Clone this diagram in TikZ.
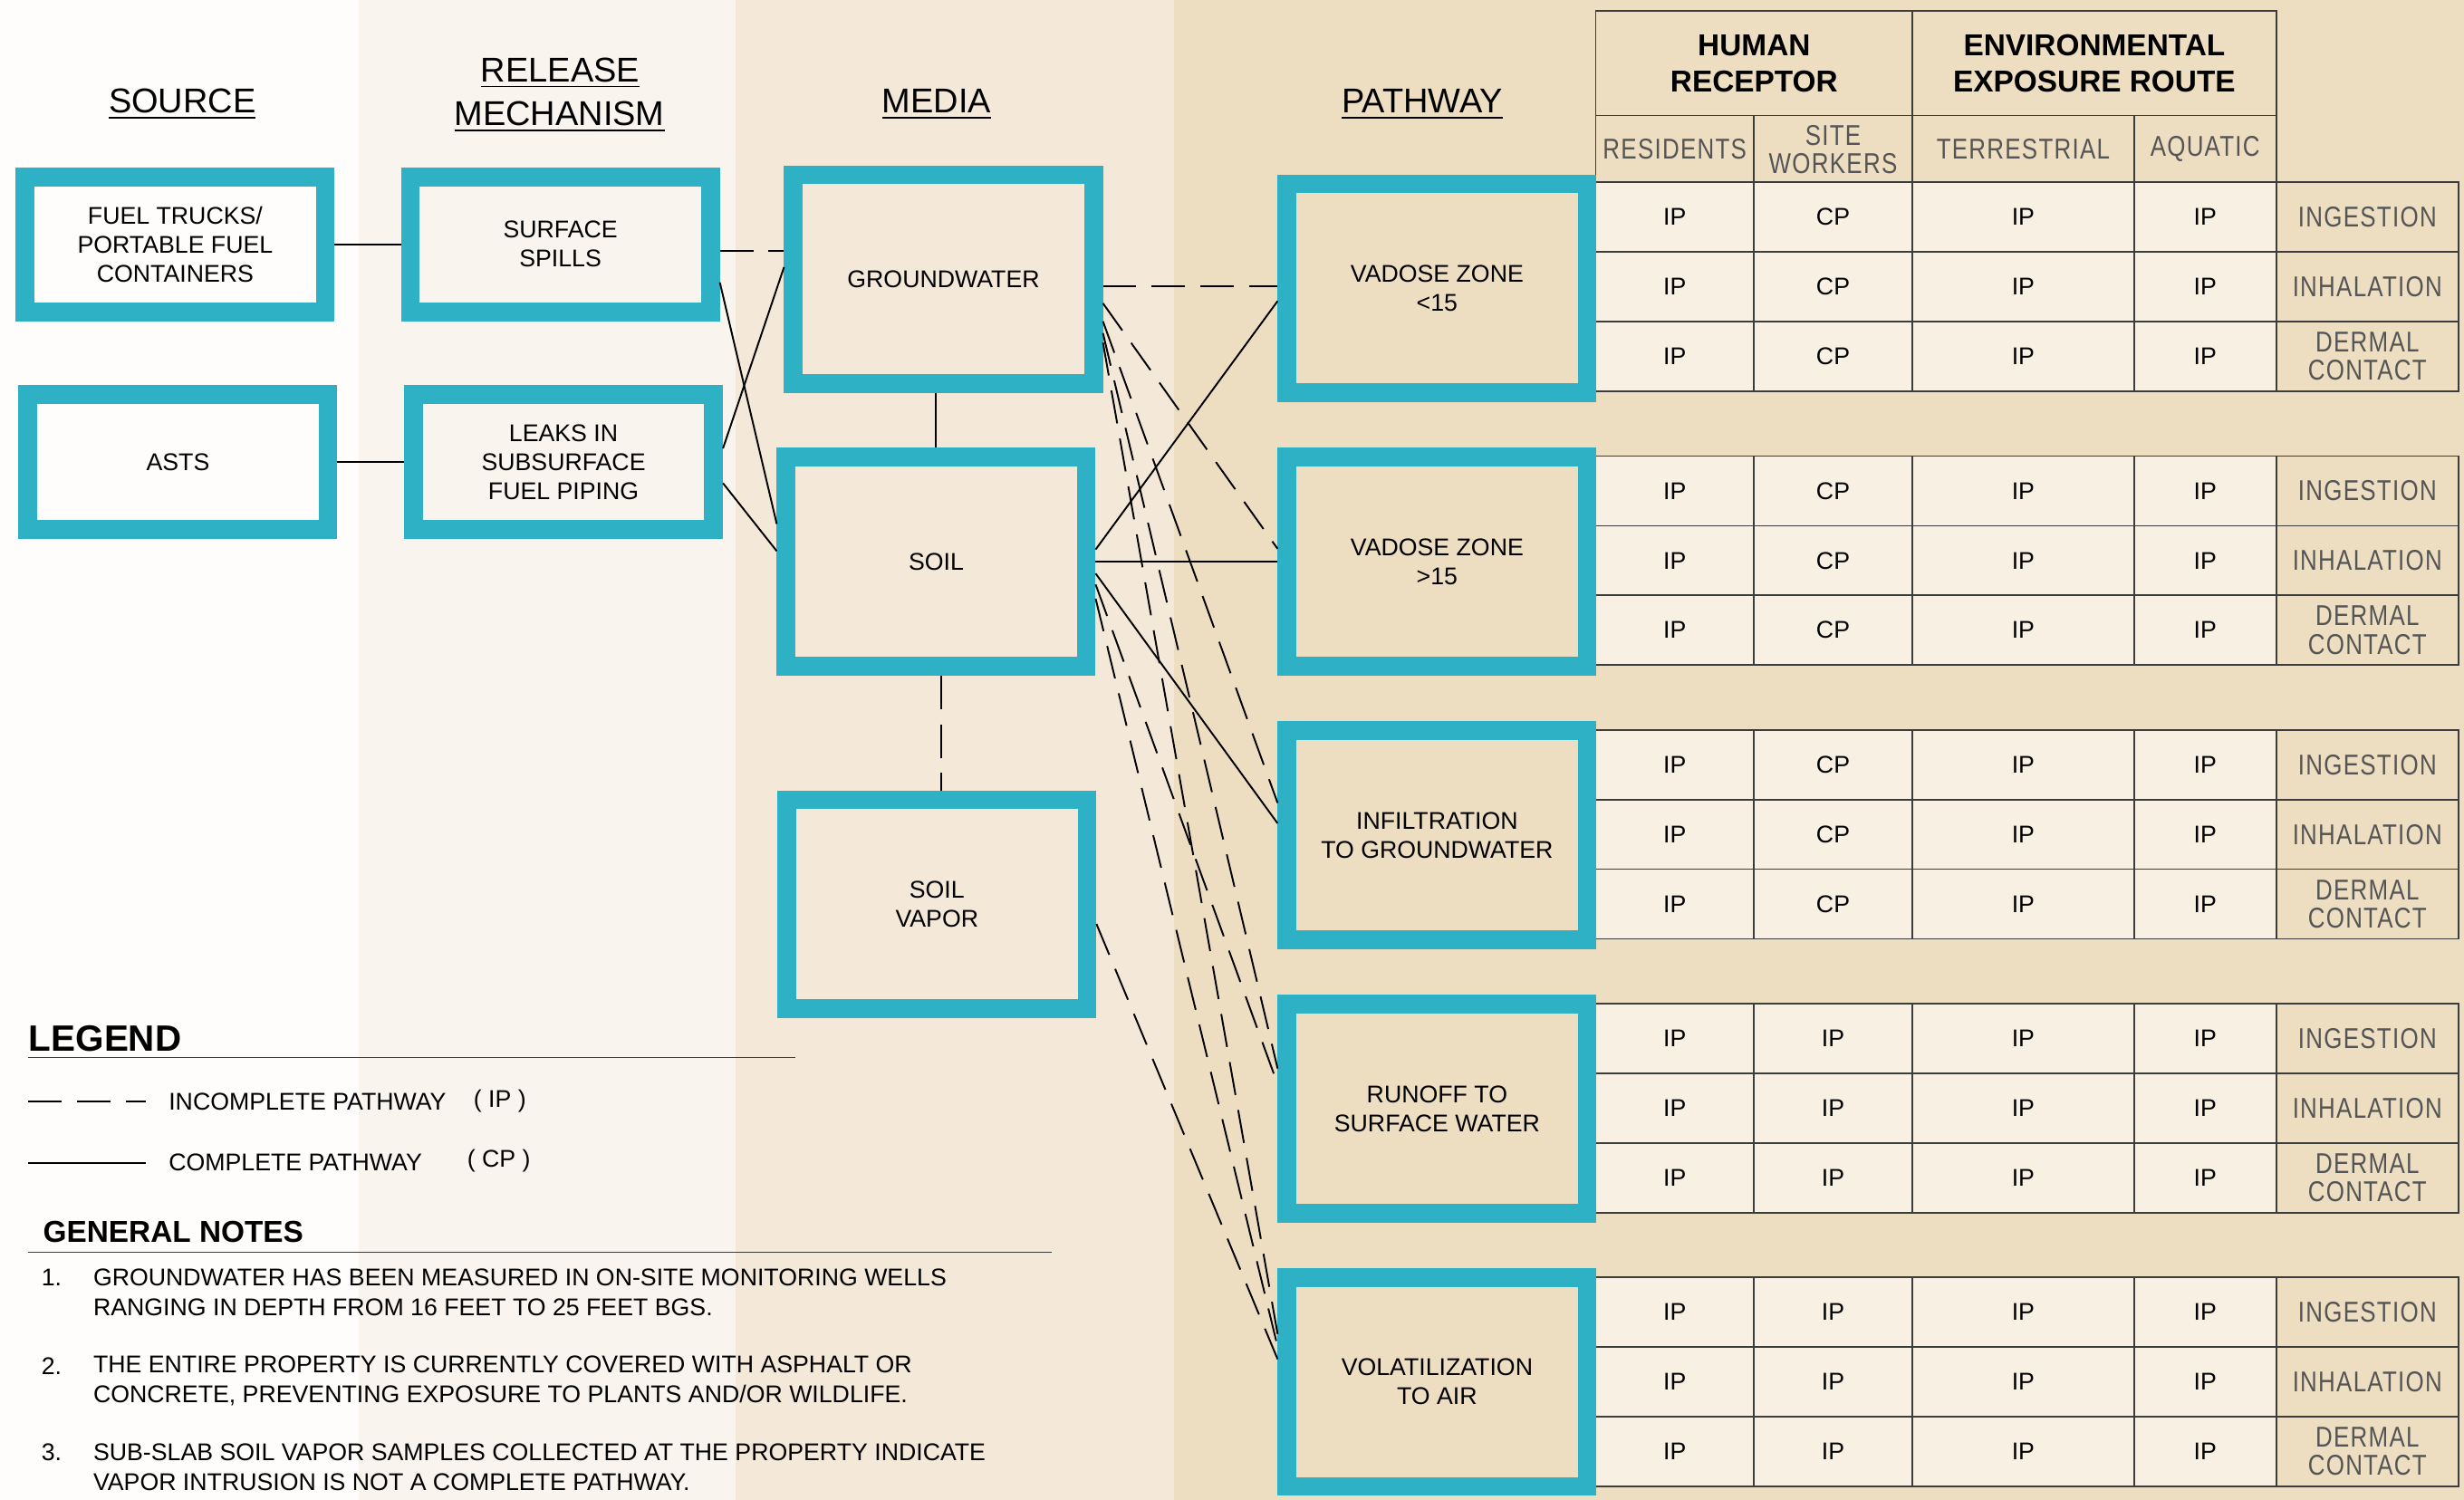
\documentclass[tikz,border=0pt]{standalone}
\usepackage{fontspec}
\setmainfont{Liberation Sans}
\newfontfamily\cmthinfont[FakeStretch=0.82,LetterSpace=4]{Liberation Sans}
\usetikzlibrary{calc}

\definecolor{tealbox}{RGB}{46,177,196}
\definecolor{bandA}{RGB}{254,253,251}
\definecolor{bandB}{RGB}{249,245,238}
\definecolor{bandC}{RGB}{244,233,216}
\definecolor{bandD}{RGB}{237,222,194}
\definecolor{cellfill}{RGB}{247,240,227}
\definecolor{routegray}{RGB}{85,85,85}
\definecolor{gridline}{RGB}{60,60,60}

\newcommand{\cmboxfont}{\fontsize{7.6}{9.1}\selectfont}
\newcommand{\cmtitlefont}{\fontsize{10.8}{13.8}\selectfont}
\newcommand{\cmheadfont}{\bfseries\fontsize{9.5}{11.4}\selectfont}
\newcommand{\cmroutefont}{\cmthinfont\fontsize{9}{8.9}\selectfont}
\newcommand{\cmlegfont}{\bfseries\fontsize{11.5}{13}\selectfont}
\newcommand{\cmnotesfont}{\bfseries\fontsize{9.5}{11}\selectfont}
\newcommand{\cmnotefont}{\fontsize{7.6}{9.4}\selectfont}

\begin{document}
\begin{tikzpicture}[x=0.017347cm, y=-0.017347cm,
  every node/.style={align=center, inner sep=0pt},
  flowbox/.style={draw=tealbox, line width=0.208cm, minimum width=3.313cm,
    minimum height=1.492cm, font=\cmboxfont},
  tallbox/.style={flowbox, minimum height=2.307cm},
  cpath/.style={line width=0.55pt},
  ipath/.style={line width=0.55pt, dash pattern=on 10.5pt off 4.8pt},
  cellrule/.style={draw=gridline, line width=0.5pt},
  title/.style={font=\cmtitlefont, anchor=base},
  head/.style={font=\cmheadfont},
  route/.style={font=\cmroutefont, text=routegray},
  cell/.style={font=\cmboxfont},
  note/.style={font=\cmnotefont, anchor=west}]

%background bands
  \useasboundingbox (0,0) rectangle (1568,954.6);
  \fill[bandA] (0,0) rectangle (228.5,954.6);
  \fill[bandB] (228.5,0) rectangle (468,954.6);
  \fill[bandC] (468,0) rectangle (747,954.6);
  \fill[bandD] (747,0) rectangle (1568,954.6);

%column titles
  \node[title] (t-source) at (116,72) {\underline{SOURCE}};
  \node[title] (t-release) at (356.5,52) {\underline{RELEASE}};
  \node[title] (t-mech) at (356,80) {\underline{MECHANISM}};
  \node[title] (t-media) at (596,72) {\underline{MEDIA}};
  \node[title] (t-pathway) at (905,72) {\underline{PATHWAY}};

%table header
  \foreach \xa/\xb/\txt [count=\i] in {1015.5/1217/{HUMAN\\RECEPTOR},
      1217/1448.5/{ENVIRONMENTAL\\EXPOSURE ROUTE}} {
    \draw[cellrule] (\xa,7) rectangle (\xb,73.5);
    \node[head] (head-\i) at ({(\xa+\xb)/2},40.5) {\txt};
  }
  \foreach \xa/\xb/\txt [count=\i] in {1015.5/1116/RESIDENTS, 1116/1217/{SITE\\WORKERS},
      1217/1358/TERRESTRIAL, 1358/1448.5/AQUATIC} {
    \draw[cellrule] (\xa,73.5) rectangle (\xb,116);
    \node[route] (sub-\i) at ({(\xa+\xb)/2},95) {\txt};
  }

%table rows
  \foreach \grp/\work in {0/CP,1/CP,2/CP,3/IP,4/IP} {
    \foreach \row/\route in {0/INGESTION,1/INHALATION,2/{DERMAL\\CONTACT}} {
      \pgfmathsetmacro{\ytop}{116+174.25*\grp+44.33*\row}
      \pgfmathsetmacro{\ybot}{\ytop+44.33}
      \pgfmathsetmacro{\ymid}{\ytop+22.17}
      \fill[cellfill] (1015.5,\ytop) rectangle (1448.5,\ybot);
      \draw[cellrule] (1015.5,\ytop) rectangle (1564.5,\ybot);
      \foreach \xa in {1116,1217,1358,1448.5}
        \draw[cellrule] (\xa,\ytop) -- (\xa,\ybot);
      \node[cell] (r-\grp-\row-1) at (1065.75,\ymid) {IP};
      \node[cell] (r-\grp-\row-2) at (1166.5,\ymid) {\work};
      \node[cell] (r-\grp-\row-3) at (1287.5,\ymid) {IP};
      \node[cell] (r-\grp-\row-4) at (1403.25,\ymid) {IP};
      \node[route] (e-\grp-\row) at (1506.5,\ymid) {\route};
    }
  }

%source and release boxes
  \node[flowbox] (fuel) at (111.5,155.5) {FUEL TRUCKS/\\PORTABLE FUEL\\CONTAINERS};
  \node[flowbox] (asts) at (113.25,294) {ASTS};
  \node[flowbox] (spills) at (356.6,155.5) {SURFACE\\SPILLS};
  \node[flowbox] (leaks) at (358.6,294) {LEAKS IN\\SUBSURFACE\\FUEL PIPING};

%media boxes
  \node[tallbox] (gw) at (600.4,177.75) {GROUNDWATER};
  \node[tallbox] (soil) at (595.75,357.5) {SOIL};
  \node[tallbox] (vapor) at (596.25,575.5) {SOIL\\VAPOR};

%pathway boxes
  \node[tallbox] (vz1) at (914.5,183.5) {VADOSE ZONE\\<15};
  \node[tallbox] (vz2) at (914.5,357.5) {VADOSE ZONE\\>15};
  \node[tallbox] (infil) at (914.5,531.5) {INFILTRATION\\TO GROUNDWATER};
  \node[tallbox] (runoff) at (914.5,705.5) {RUNOFF TO\\SURFACE WATER};
  \node[tallbox] (volat) at (914.5,879.5) {VOLATILIZATION\\TO AIR};

%source to release
  \draw[cpath] (fuel) -- (spills);
  \draw[cpath] (asts) -- (leaks);

%release to media
  \draw[ipath] ($(spills.east)+(0,4.4)$) coordinate (s1) -- (s1 -| gw.west);
  \draw[cpath] ($(spills.east)+(0,24.2)$) -- ($(soil.west)+(0,-24.1)$);
  \draw[cpath] ($(leaks.east)+(0,-8.6)$) -- ($(gw.west)+(0,-7.75)$);
  \draw[cpath] ($(leaks.east)+(0,13.5)$) -- ($(soil.west)+(0,-6.8)$);

%between media
  \draw[cpath] ($(soil.north)+(-0.25,0)$) coordinate (m1) -- (m1 |- gw.south);
  \draw[ipath] ($(soil.south)+(3.25,0)$) coordinate (m2) -- (m2 |- vapor.north);

%media to pathway
  \draw[ipath] ($(gw.east)+(0,4.45)$) coordinate (g1) -- (g1 -| vz1.west);
  \draw[cpath] ($(soil.east)+(0,-7.8)$) -- ($(vz1.west)+(0,8.1)$);
  \draw[ipath] ($(gw.east)+(0,15.25)$) -- ($(vz2.west)+(0,-8.2)$);
  \draw[cpath] (soil) -- (vz2);
  \draw[cpath] ($(soil.east)+(0,7.5)$) -- ($(infil.west)+(0,-7.5)$);
  \draw[ipath] ($(gw.east)+(0,26.75)$) -- ($(infil.west)+(0,-20.5)$);
  \draw[ipath] ($(gw.east)+(0,34.25)$) -- ($(runoff.west)+(0,-25.5)$);
  \draw[ipath] ($(soil.east)+(0,14.5)$) -- ($(runoff.west)+(0,-15.5)$);
  \draw[ipath] ($(gw.east)+(0,40.25)$) -- ($(volat.west)+(0,-30.5)$);
  \draw[ipath] ($(soil.east)+(0,23.5)$) -- ($(volat.west)+(0,-22.5)$);
  \draw[ipath] ($(vapor.east)+(0,12.5)$) -- ($(volat.west)+(0,-14.5)$);

%legend
  \node[anchor=west, font=\cmlegfont] (legend) at (18,661) {LEGEND};
  \draw[line width=0.5pt, gridline] (18,673) -- (506,673);
  \draw[ipath] (18,701) -- (93,701);
  \draw[cpath] (18,740) -- (93,740);
  \node[note] (ip-label) at (107,701) {INCOMPLETE PATHWAY};
  \node[note] (ip-code) at (301,701) {( IP )};
  \node[note] (cp-label) at (107,740) {COMPLETE PATHWAY};
  \node[note] (cp-code) at (297,739) {( CP )};

%general notes
  \node[anchor=west, font=\cmnotesfont] (notes) at (27,784) {GENERAL NOTES};
  \draw[line width=0.5pt, gridline] (18,797) -- (669,797);
  \foreach \n/\y/\txt in {
      1/822.5/{GROUNDWATER HAS BEEN MEASURED IN ON-SITE MONITORING WELLS\\RANGING IN DEPTH FROM 16 FEET TO 25 FEET BGS.},
      2/879/{THE ENTIRE PROPERTY IS CURRENTLY COVERED WITH ASPHALT OR\\CONCRETE, PREVENTING EXPOSURE TO PLANTS AND/OR WILDLIFE.},
      3/934/{SUB-SLAB SOIL VAPOR SAMPLES COLLECTED AT THE PROPERTY INDICATE\\VAPOR INTRUSION IS NOT A COMPLETE PATHWAY.}} {
    \node[note] (num-\n) at (26,\y-9.5) {\n.};
    \node[note, align=left] (note-\n) at (59,\y) {\txt};
  }

\end{tikzpicture}
\end{document}
